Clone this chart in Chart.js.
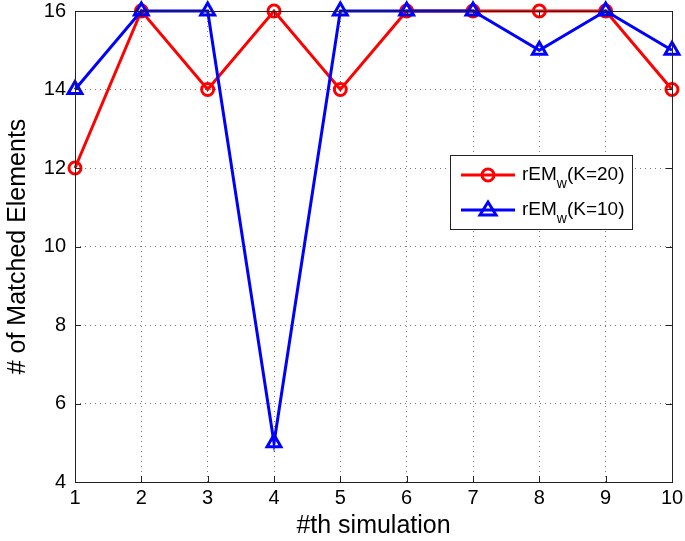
<!DOCTYPE html>
<html lang="en">
<head>
    <meta charset="UTF-8">
    <title>Matched Elements</title>
    <script src="https://cdn.jsdelivr.net/npm/chart.js"></script>
    <style>
        html, body { margin: 0; padding: 0; background: white; }
        #wrap { width: 685px; height: 541px; }
    </style>
</head>
<body>
    <div id="wrap"><canvas id="lineChart" width="685" height="541"></canvas></div>

    <script>
        const simulations = [1, 2, 3, 4, 5, 6, 7, 8, 9, 10];
        const k20Values = [12, 16, 14, 16, 14, 16, 16, 16, 16, 14];
        const k10Values = [14, 16, 16, 5, 16, 16, 16, 15, 16, 15];
        const yTicks = [4, 6, 8, 10, 12, 14, 16];
        const legendNames = [['rEM', 'w', '(K=20)'], ['rEM', 'w', '(K=10)']];

        const FONT = "'Liberation Sans', Arial, sans-serif";

        // box around axes + inward tick marks, MATLAB style
        const axesBox = {
            id: 'axesBox',
            afterDatasetsDraw(chart) {
                const { ctx, chartArea: a, scales } = chart;
                ctx.save();
                ctx.strokeStyle = '#222';
                ctx.lineWidth = 1;
                ctx.setLineDash([]);
                ctx.beginPath();
                simulations.forEach(v => {
                    const x = Math.round(scales.x.getPixelForValue(v)) + 0.5;
                    ctx.moveTo(x, a.bottom); ctx.lineTo(x, a.bottom - 6);
                    ctx.moveTo(x, a.top); ctx.lineTo(x, a.top + 6);
                });
                yTicks.forEach(v => {
                    const y = Math.round(scales.y.getPixelForValue(v)) + 0.5;
                    ctx.moveTo(a.left, y); ctx.lineTo(a.left + 6, y);
                    ctx.moveTo(a.right, y); ctx.lineTo(a.right - 6, y);
                });
                ctx.stroke();
                ctx.strokeRect(Math.round(a.left) + 0.5, Math.round(a.top) + 0.5,
                    Math.round(a.right - a.left), Math.round(a.bottom - a.top));
                ctx.restore();
            }
        };

        // legend with subscript text
        const subLegend = {
            id: 'subLegend',
            afterDraw(chart) {
                const { ctx } = chart;
                const bx = 450, by = 155, bw = 182, bh = 74;
                ctx.save();
                ctx.fillStyle = 'white';
                ctx.fillRect(bx, by, bw, bh);
                ctx.strokeStyle = '#222';
                ctx.lineWidth = 1;
                ctx.strokeRect(bx + 0.5, by + 0.5, bw, bh);
                chart.data.datasets.forEach((ds, i) => {
                    const y = by + 20 + i * 35;
                    ctx.strokeStyle = ds.borderColor;
                    ctx.lineWidth = 3;
                    ctx.beginPath();
                    ctx.moveTo(bx + 11, y); ctx.lineTo(bx + 65, y);
                    ctx.stroke();
                    ctx.beginPath();
                    const mx = bx + 38;
                    if (ds.pointStyle === 'circle') {
                        ctx.arc(mx, y, 6, 0, Math.PI * 2);
                    } else {
                        ctx.moveTo(mx, y - 8); ctx.lineTo(mx + 8, y + 5); ctx.lineTo(mx - 8, y + 5); ctx.closePath();
                    }
                    ctx.stroke();
                    const parts = legendNames[i];
                    ctx.fillStyle = '#000';
                    ctx.textBaseline = 'middle';
                    let tx = bx + 72;
                    ctx.font = '19px ' + FONT;
                    ctx.fillText(parts[0], tx, y);
                    tx += ctx.measureText(parts[0]).width;
                    ctx.font = '14px ' + FONT;
                    ctx.fillText(parts[1], tx, y + 9);
                    tx += ctx.measureText(parts[1]).width;
                    ctx.font = '19px ' + FONT;
                    ctx.fillText(parts[2], tx, y);
                });
                ctx.restore();
            }
        };

        const toPoints = vals => vals.map((v, i) => ({ x: simulations[i], y: v }));

        new Chart(document.getElementById('lineChart'), {
            type: 'line',
            data: {
                datasets: [{
                    label: 'rEMw(K=20)',
                    data: toPoints(k20Values),
                    borderColor: '#ff0000',
                    backgroundColor: 'rgba(0,0,0,0)',
                    borderWidth: 3,
                    pointStyle: 'circle',
                    pointRadius: 6,
                    pointBorderWidth: 3,
                    tension: 0,
                    clip: false,
                    order: 1
                }, {
                    label: 'rEMw(K=10)',
                    data: toPoints(k10Values),
                    borderColor: '#0000ff',
                    backgroundColor: 'rgba(0,0,0,0)',
                    borderWidth: 3,
                    pointStyle: 'triangle',
                    pointRadius: 8,
                    pointBorderWidth: 3,
                    tension: 0,
                    clip: false,
                    order: 0
                }]
            },
            options: {
                responsive: false,
                animation: false,
                layout: { padding: { top: 11, right: 13, left: 0, bottom: 0 } },
                plugins: {
                    legend: { display: false },
                    tooltip: { enabled: false }
                },
                scales: {
                    x: {
                        type: 'linear',
                        min: 1,
                        max: 10,
                        afterBuildTicks: s => { s.ticks = simulations.map(v => ({ value: v })); },
                        afterFit: s => { s.height = 59; s.paddingLeft = 0; s.paddingRight = 0; },
                        grid: {
                            color: '#777',
                            drawTicks: false
                        },
                        border: { display: false, dash: [1, 4] },
                        ticks: { color: '#000', padding: 4, font: { family: FONT, size: 20 }, maxRotation: 0 },
                        title: {
                            display: true,
                            text: '#th simulation',
                            color: '#000',
                            padding: { top: 5, bottom: 0 },
                            font: { family: FONT, size: 25 }
                        }
                    },
                    y: {
                        min: 4,
                        max: 16,
                        afterBuildTicks: s => { s.ticks = yTicks.map(v => ({ value: v })); },
                        afterFit: s => { s.width = 75; s.paddingTop = 0; s.paddingBottom = 0; },
                        grid: {
                            color: '#777',
                            drawTicks: false
                        },
                        border: { display: false, dash: [1, 4] },
                        ticks: { color: '#000', padding: 9, font: { family: FONT, size: 20 } },
                        title: {
                            display: true,
                            text: '# of Matched Elements',
                            color: '#000',
                            padding: { top: 3, bottom: 0 },
                            font: { family: FONT, size: 25 }
                        }
                    }
                }
            },
            plugins: [axesBox, subLegend]
        });
    </script>
</body>
</html>
